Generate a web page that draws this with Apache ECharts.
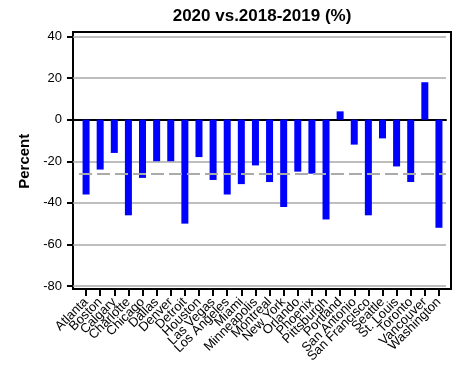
<!DOCTYPE html>
<html>
<head>
<meta charset="utf-8">
<script src="https://cdn.jsdelivr.net/npm/echarts@6/dist/echarts.min.js"></script>
<style>html,body{margin:0;padding:0;background:#fff;}#c{width:452px;height:378px;}</style>
</head>
<body>
<div id="c"></div>
<script>
var titleText = '2020 vs.2018-2019 (%)';
var yTitle = 'Percent';
var categories = ['Atlanta','Boston','Calgary','Charlotte','Chicago','Dallas','Denver','Detroit','Houston','Las Vegas','Los Angeles','Miami','Minneapolis','Montreal','New York','Orlando','Phoenix','Pittsburgh','Portland','San Antonio','San Francisco','Seattle','St. Louis','Toronto','Vancouver','Washington'];
var values = [-36,-24,-16,-46,-28,-20,-20,-50,-18,-29,-36,-31,-22,-30,-42,-25,-26,-48,4,-12,-46,-9,-22.5,-30,18,-52];
var meanValue = -26;
var yMin = -80, yMax = 40, yStep = 20;

var font = '"Liberation Sans", Arial, Helvetica, sans-serif';
var chart = echarts.init(document.getElementById('c'), null, {renderer: 'canvas'});
chart.setOption({
  animation: false,
  backgroundColor: '#fff',
  title: {
    text: titleText, left: 257, top: 3, textAlign: 'center',
    textStyle: {fontFamily: font, fontSize: 17, fontWeight: 'bold', color: '#000'}
  },
  grid: [
    {left: 73, right: 6, top: 36.5, bottom: 92, containLabel: false},
    {left: 79, right: 6, top: 36.5, bottom: 92, containLabel: false},
    {left: 73, right: 1, top: 32, bottom: 89, show: true, borderColor: '#000', borderWidth: 2, backgroundColor: 'transparent', containLabel: false}
  ],
  xAxis: [
    {gridIndex: 0, type: 'value', min: 0, max: 1,
     axisLine: {show: true, onZero: true, lineStyle: {color: '#000', width: 2}},
     axisTick: {show: false}, axisLabel: {show: false}, splitLine: {show: false}},
    {gridIndex: 1, type: 'category', data: categories, position: 'bottom', offset: 3,
     boundaryGap: true,
     axisLine: {show: false, onZero: false},
     axisTick: {show: true, alignWithLabel: true, length: 7, lineStyle: {color: '#000', width: 2}},
     axisLabel: {rotate: 45, interval: 0, margin: 11, fontFamily: font, fontSize: 13, color: '#000'},
     splitLine: {show: false}},
    {gridIndex: 2, type: 'value', show: false}
  ],
  yAxis: [
    {gridIndex: 0, type: 'value', min: yMin, max: yMax, interval: yStep,
     name: yTitle, nameLocation: 'middle', nameGap: 38,
     nameTextStyle: {fontFamily: font, fontSize: 15, fontWeight: 'bold', color: '#000'},
     axisLine: {show: false},
     axisTick: {show: true, length: 6, lineStyle: {color: '#000', width: 2}},
     axisLabel: {margin: 11, fontFamily: font, fontSize: 13, color: '#000'},
     splitLine: {show: true, lineStyle: {color: '#a8a8a8', width: 1.5}}},
    {gridIndex: 1, type: 'value', min: yMin, max: yMax, interval: yStep, show: false, splitLine: {show: false}},
    {gridIndex: 2, type: 'value', show: false}
  ],
  series: [
    {type: 'bar', xAxisIndex: 1, yAxisIndex: 1, data: values, barWidth: 7,
     itemStyle: {color: '#0000ff'},
     markLine: {silent: true, symbol: 'none', label: {show: false},
       lineStyle: {color: '#aaaaaa', width: 2, type: [13, 5]},
       data: [{yAxis: meanValue}]}}
  ]
});
</script>
</body>
</html>
